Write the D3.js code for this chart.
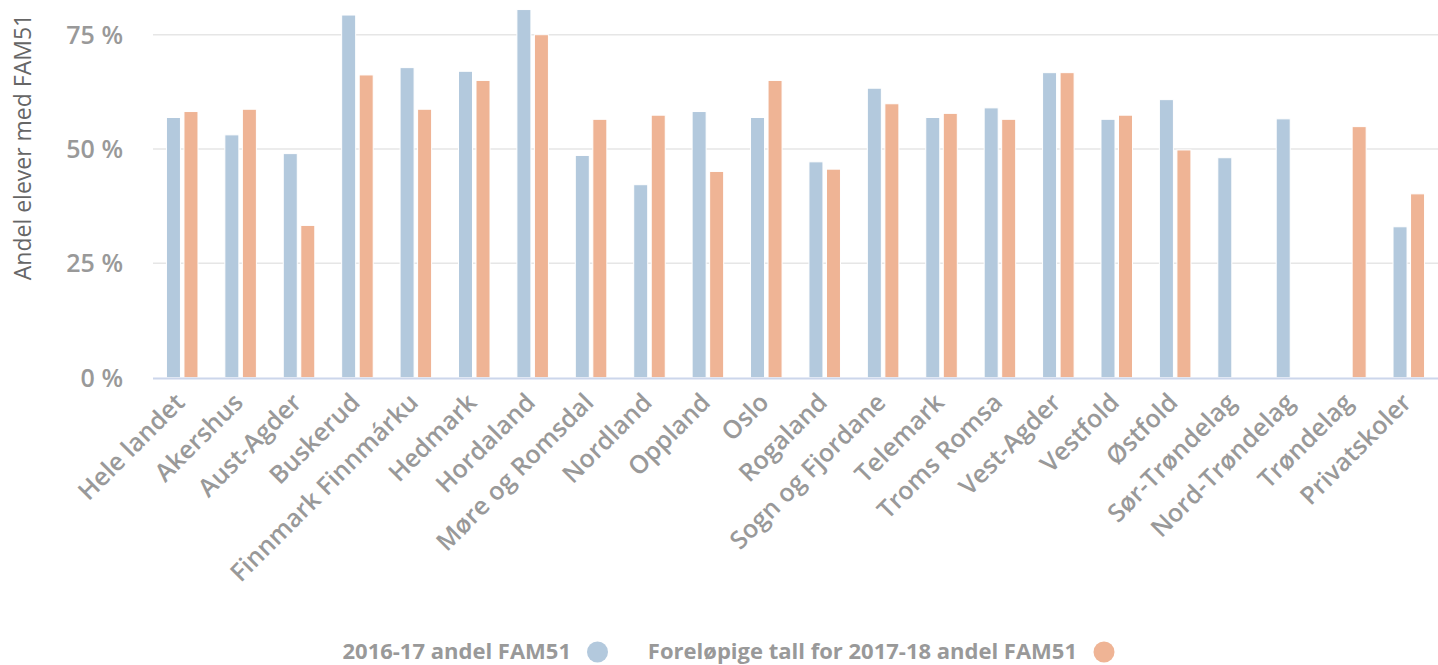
<!DOCTYPE html>
<html>
<head>
<meta charset="utf-8">
<script src="https://cdn.jsdelivr.net/npm/d3@7"></script>
<style>
  html, body { margin: 0; padding: 0; background: #fff; }
  svg { display: block; font-family: "Open Sans", sans-serif; }
</style>
</head>
<body>
<svg id="chart" width="1438" height="665"></svg>
<script>
const categories = ["Hele landet","Akershus","Aust-Agder","Buskerud","Finnmark Finnmárku","Hedmark","Hordaland","Møre og Romsdal","Nordland","Oppland","Oslo","Rogaland","Sogn og Fjordane","Telemark","Troms Romsa","Vest-Agder","Vestfold","Østfold","Sør-Trøndelag","Nord-Trøndelag","Trøndelag","Privatskoler"];
const series2016 = [56.9,53.1,49.0,79.3,67.8,67.0,80.5,48.6,42.2,58.2,56.9,47.2,63.3,56.9,59.0,66.7,56.5,60.8,48.1,56.6,null,33.0];
const series2017 = [58.2,58.7,33.3,66.2,58.7,65.0,75.0,56.5,57.4,45.1,65.0,45.6,59.9,57.8,56.5,66.7,57.4,49.8,null,null,54.9,40.2];
const seriesNames = ["2016-17 andel FAM51","Foreløpige tall for 2017-18 andel FAM51"];
const yTicks = [0,25,50,75];
const yTitle = "Andel elever med FAM51";

const colors = ["#b3c9dd","#efb495"];
const svg = d3.select("#chart");

const plotLeft = 153, plotRight = 1438;
const x = d3.scaleBand().domain(categories).range([plotLeft, plotRight]).paddingInner(0).paddingOuter(0);
const y = d3.scaleLinear().domain([0,75]).range([377.7, 34.7]);

const groupPad = 0.2 * x.bandwidth();
const x1 = d3.scaleBand().domain([0,1]).range([groupPad, x.bandwidth() - groupPad]).padding(0);
const pointPad = 0.1 * x1.bandwidth();

// gridlines
svg.append("g").selectAll("line").data(yTicks.filter(t => t > 0)).join("line")
  .attr("x1", plotLeft).attr("x2", plotRight)
  .attr("y1", d => y(d)).attr("y2", d => y(d))
  .attr("stroke", "#e6e6e6").attr("stroke-width", 1.5);

// y tick labels
svg.append("g").selectAll("text").data(yTicks).join("text")
  .attr("x", 123).attr("y", d => y(d) + 9)
  .attr("text-anchor", "end")
  .attr("fill", "#999").attr("font-size", 25).attr("font-weight", 600)
  .text(d => d + " %");

// y title
svg.append("text")
  .attr("transform", `translate(31,147) rotate(-90)`)
  .attr("text-anchor", "middle")
  .attr("fill", "#666").attr("font-size", 23)
  .text(yTitle);

// bars
const allSeries = [series2016, series2017];
allSeries.forEach((vals, si) => {
  svg.append("g").selectAll("rect")
    .data(vals.map((v, i) => ({v, c: categories[i]})).filter(d => d.v != null))
    .join("rect")
    .attr("x", d => x(d.c) + x1(si) + pointPad)
    .attr("width", x1.bandwidth() - 2 * pointPad)
    .attr("y", d => y(d.v))
    .attr("height", d => y(0) - y(d.v))
    .attr("fill", colors[si])
    .attr("stroke", "#fff").attr("stroke-width", 1);
});

// axis line
svg.append("line")
  .attr("x1", plotLeft).attr("x2", plotRight)
  .attr("y1", 378.5).attr("y2", 378.5)
  .attr("stroke", "#ccd6eb").attr("stroke-width", 2);

// x labels
svg.append("g").selectAll("text").data(categories).join("text")
  .attr("transform", d => `translate(${x(d) + x.bandwidth()/2 + 4},404) rotate(-45)`)
  .attr("text-anchor", "end")
  .attr("fill", "#999").attr("font-size", 25).attr("font-weight", 600)
  .text(d => d);

// legend
const legendItems = [
  {name: seriesNames[0], textEnd: 571, cx: 597.5, color: colors[0]},
  {name: seriesNames[1], textEnd: 1077, cx: 1104, color: colors[1]}
];
const lg = svg.append("g");
lg.selectAll("text").data(legendItems).join("text")
  .attr("x", d => d.textEnd).attr("y", 659)
  .attr("text-anchor", "end")
  .attr("fill", "#999").attr("font-size", 22).attr("font-weight", 700)
  .text(d => d.name);
lg.selectAll("circle").data(legendItems).join("circle")
  .attr("cx", d => d.cx).attr("cy", 652).attr("r", 10.5)
  .attr("fill", d => d.color);
</script>
</body>
</html>
